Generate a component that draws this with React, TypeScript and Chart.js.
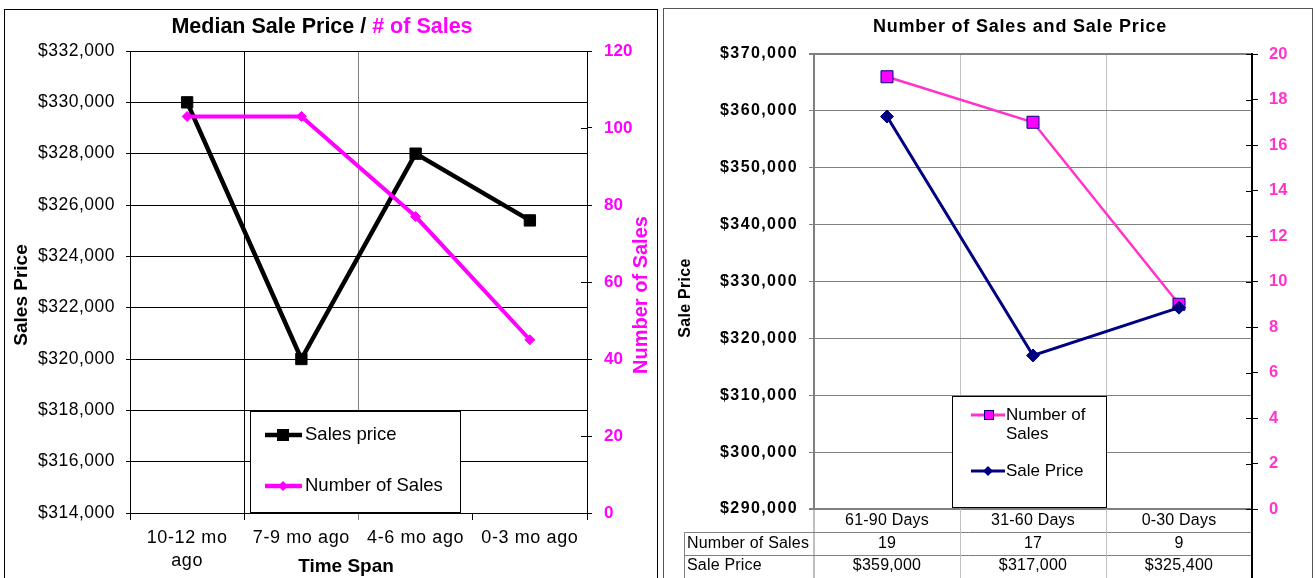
import React, { useEffect, useRef } from 'react';
import { Chart, registerables } from 'chart.js';

Chart.register(...registerables);

const FONT = "'Liberation Sans', Arial, sans-serif";

// ---------- Left chart data ----------
const leftTitleParts = ['Median Sale Price / ', '# of Sales'];
const timeSpans: (string | string[])[] = [['10-12 mo', 'ago'], '7-9 mo ago', '4-6 mo ago', '0-3 mo ago'];
const salesPrice = [330000, 320000, 328000, 325400];
const numberOfSales = [103, 103, 77, 45];
const leftPriceRange = [314000, 332000, 2000];
const leftCountRange = [0, 120, 20];

// ---------- Right chart data ----------
const rightTitle = 'Number of Sales and Sale Price';
const dayRanges = ['61-90 Days', '31-60 Days', '0-30 Days'];
const salesCount = [19, 17, 9];
const salePrice = [359000, 317000, 325400];
const rightPriceRange = [290000, 370000, 10000];
const rightCountRange = [0, 20, 2];

const money = (v: number) => '$' + Number(v).toLocaleString('en-US');

const PINK = '#FF00FF';
const PINK2 = '#FF33CC';
const NAVY = '#000080';

// scriptable tick colour that also sets the letter spacing used for that axis' labels
const spaced = (color: string, px: number) => (c: any) => {
  try { c.chart.ctx.letterSpacing = px + 'px'; } catch (e) { /* ignore */ }
  return color;
};

function setSpacing(ctx: any, px: number) {
  try { ctx.letterSpacing = px + 'px'; } catch (e) { /* ignore */ }
}

function drawDiamond(ctx: CanvasRenderingContext2D, x: number, y: number, r: number, fill: string) {
  ctx.beginPath();
  ctx.moveTo(x, y - r);
  ctx.lineTo(x + r, y);
  ctx.lineTo(x, y + r);
  ctx.lineTo(x - r, y);
  ctx.closePath();
  ctx.fillStyle = fill;
  ctx.fill();
}

const leftDecor = {
  id: 'leftDecor',
  afterDraw(chart: any) {
    const ctx: CanvasRenderingContext2D = chart.ctx;
    ctx.save();
    // frame
    ctx.strokeStyle = '#000';
    ctx.lineWidth = 1;
    ctx.strokeRect(4.5, 9.5, 653, 620);
    // inside ticks of right axis
    const y1 = chart.scales.y1;
    ctx.beginPath();
    y1.ticks.forEach((_t: any, i: number) => {
      const py = Math.round(y1.getPixelForTick(i)) + 0.5;
      ctx.moveTo(y1.left - 6, py);
      ctx.lineTo(y1.left, py);
    });
    ctx.stroke();
    // title
    setSpacing(ctx, 0);
    ctx.font = `bold 21.5px ${FONT}`;
    ctx.textBaseline = 'middle';
    ctx.textAlign = 'left';
    const wa = ctx.measureText(leftTitleParts[0]).width;
    const wb = ctx.measureText(leftTitleParts[1]).width;
    const x0 = 322 - (wa + wb) / 2;
    ctx.fillStyle = '#000';
    ctx.fillText(leftTitleParts[0], x0, 27);
    ctx.fillStyle = PINK;
    ctx.fillText(leftTitleParts[1], x0 + wa, 27);
    // axis titles
    ctx.textAlign = 'center';
    ctx.font = `bold 19px ${FONT}`;
    ctx.fillStyle = '#000';
    ctx.fillText('Time Span', 346, 567);
    ctx.save();
    ctx.translate(22, 295);
    ctx.rotate(-Math.PI / 2);
    ctx.fillText('Sales Price', 0, 0);
    ctx.restore();
    ctx.save();
    ctx.translate(641, 295);
    ctx.rotate(-Math.PI / 2);
    ctx.fillStyle = PINK;
    ctx.font = `bold 20px ${FONT}`;
    ctx.fillText('Number of Sales', 0, 0);
    ctx.restore();
    // legend
    ctx.fillStyle = '#fff';
    ctx.fillRect(250, 411, 211, 102);
    ctx.strokeStyle = '#000';
    ctx.lineWidth = 1;
    ctx.strokeRect(250.5, 411.5, 210, 101);
    const ds = chart.data.datasets;
    ctx.lineWidth = 4.5;
    ctx.strokeStyle = '#000';
    ctx.beginPath();
    ctx.moveTo(265, 435);
    ctx.lineTo(302, 435);
    ctx.stroke();
    ctx.fillStyle = '#000';
    ctx.fillRect(277, 429, 12, 12);
    ctx.strokeStyle = PINK;
    ctx.beginPath();
    ctx.moveTo(265, 486);
    ctx.lineTo(302, 486);
    ctx.stroke();
    drawDiamond(ctx, 283, 486, 5, PINK);
    ctx.font = `18.5px ${FONT}`;
    ctx.textAlign = 'left';
    ctx.fillStyle = '#000';
    ctx.fillText(ds[1].label, 305, 435);
    ctx.fillText(ds[0].label, 305, 486);
    ctx.restore();
  },
};

const rightDecor = {
  id: 'rightDecor',
  afterDraw(chart: any) {
    const ctx: CanvasRenderingContext2D = chart.ctx;
    const { x, y1 } = chart.scales;
    const area = chart.chartArea;
    ctx.save();
    // frame
    ctx.strokeStyle = '#555';
    ctx.lineWidth = 1;
    ctx.strokeRect(3.5, 8.5, 649, 620);
    // inside ticks of right axis
    ctx.strokeStyle = '#000';
    ctx.beginPath();
    y1.ticks.forEach((_t: any, i: number) => {
      const py = Math.round(y1.getPixelForTick(i)) + 0.5;
      ctx.moveTo(y1.left - 6, py);
      ctx.lineTo(y1.left, py);
    });
    ctx.stroke();
    // title
    setSpacing(ctx, 0.8);
    ctx.fillStyle = '#000';
    ctx.font = `bold 18px ${FONT}`;
    ctx.textAlign = 'center';
    ctx.textBaseline = 'middle';
    ctx.fillText(rightTitle, 360, 27);
    // axis title
    ctx.save();
    setSpacing(ctx, 0.3);
    ctx.translate(26, 298);
    ctx.rotate(-Math.PI / 2);
    ctx.font = `bold 16px ${FONT}`;
    ctx.fillText('Sale Price', 0, 0);
    ctx.restore();
    // data table
    const bottom = area.bottom;
    const r1 = 532.5, r2 = 555.5, tableLeft = 24.5;
    ctx.strokeStyle = '#808080';
    ctx.lineWidth = 1;
    ctx.beginPath();
    ctx.moveTo(tableLeft, r1); ctx.lineTo(area.right, r1);
    ctx.moveTo(tableLeft, r2); ctx.lineTo(area.right, r2);
    ctx.moveTo(tableLeft, r1); ctx.lineTo(tableLeft, 578);
    ctx.moveTo(area.left, bottom); ctx.lineTo(area.left, 578);
    ctx.stroke();
    ctx.strokeStyle = '#C0C0C0';
    ctx.beginPath();
    for (let i = 1; i < dayRanges.length; i++) {
      const bx = Math.round((x.getPixelForValue(i - 1) + x.getPixelForValue(i)) / 2) + 0.5;
      ctx.moveTo(bx, bottom); ctx.lineTo(bx, 578);
    }
    ctx.stroke();
    ctx.strokeStyle = '#000';
    ctx.lineWidth = 2;
    ctx.beginPath();
    ctx.moveTo(area.right, bottom); ctx.lineTo(area.right, 578);
    ctx.stroke();
    setSpacing(ctx, 0.2);
    ctx.font = `16px ${FONT}`;
    ctx.fillStyle = '#000';
    ctx.textAlign = 'center';
    dayRanges.forEach((lab, i) => {
      const cx = x.getPixelForValue(i);
      ctx.fillText(lab, cx, 521);
      ctx.fillText(String(salesCount[i]), cx, 544);
      ctx.fillText(money(salePrice[i]), cx, 566);
    });
    ctx.textAlign = 'left';
    ctx.fillText('Number of Sales', 27, 544);
    ctx.fillText('Sale Price', 27, 566);
    // legend
    ctx.fillStyle = '#fff';
    ctx.fillRect(292, 396, 155, 112);
    ctx.strokeStyle = '#000';
    ctx.lineWidth = 1;
    ctx.strokeRect(292.5, 396.5, 154, 111);
    ctx.lineWidth = 3;
    ctx.strokeStyle = PINK2;
    ctx.beginPath(); ctx.moveTo(311, 415); ctx.lineTo(345, 415); ctx.stroke();
    ctx.fillStyle = PINK;
    ctx.fillRect(324, 410, 10, 10);
    ctx.strokeStyle = NAVY; ctx.lineWidth = 1;
    ctx.strokeRect(324.5, 410.5, 9, 9);
    ctx.strokeStyle = NAVY; ctx.lineWidth = 3;
    ctx.beginPath(); ctx.moveTo(311, 471); ctx.lineTo(345, 471); ctx.stroke();
    drawDiamond(ctx, 328, 471, 5, NAVY);
    setSpacing(ctx, 0);
    ctx.fillStyle = '#000';
    ctx.font = `17px ${FONT}`;
    ctx.fillText('Number of', 346, 415);
    ctx.fillText('Sales', 346, 434);
    ctx.fillText('Sale Price', 346, 471);
    ctx.restore();
  },
};

export default function App() {
  const leftRef = useRef<HTMLCanvasElement>(null);
  const rightRef = useRef<HTMLCanvasElement>(null);

  useEffect(() => {
    const left = new Chart(leftRef.current as HTMLCanvasElement, {
      type: 'line',
      data: {
        labels: timeSpans as any,
        datasets: [
          {
            label: 'Number of Sales',
            data: numberOfSales,
            yAxisID: 'y1',
            borderColor: PINK,
            backgroundColor: PINK,
            pointBorderColor: PINK,
            borderWidth: 4,
            pointStyle: 'rectRot',
            pointRadius: 5,
            pointBorderWidth: 1,
            tension: 0,
          },
          {
            label: 'Sales price',
            data: salesPrice,
            yAxisID: 'y',
            borderColor: '#000',
            backgroundColor: '#000',
            pointBorderColor: '#000',
            borderWidth: 4.5,
            pointStyle: 'rect',
            pointRadius: 8,
            pointBorderWidth: 1,
            tension: 0,
          },
        ],
      },
      options: {
        responsive: false,
        animation: false,
        events: [],
        layout: { padding: { top: 51, left: 0, right: 0, bottom: 0 } },
        plugins: { legend: { display: false }, tooltip: { enabled: false }, title: { display: false } },
        scales: {
          x: {
            offset: true,
            grid: {
              offset: true,
              color: (c: any) => (c.index === 1 ? '#000' : c.index === 2 ? '#808080' : 'rgba(0,0,0,0)'),
              tickColor: (c: any) => (c.index === 2 ? '#808080' : '#000'),
              tickLength: 7,
            },
            border: { display: false },
            ticks: { font: { family: FONT, size: 18, lineHeight: 1.25 }, color: spaced('#000', 0.6), padding: 7, maxRotation: 0, autoSkip: false },
            afterFit: (s: any) => { s.height = 65; },
          },
          y: {
            position: 'left',
            min: leftPriceRange[0],
            max: leftPriceRange[1],
            ticks: { stepSize: leftPriceRange[2], callback: (v: any) => money(v), font: { family: FONT, size: 17.5 }, color: spaced('#000', 0.5), padding: 11 },
            grid: { color: '#000', tickLength: 4 },
            border: { color: '#000' },
            afterFit: (s: any) => { s.width = 130; },
          },
          y1: {
            position: 'right',
            min: leftCountRange[0],
            max: leftCountRange[1],
            ticks: { stepSize: leftCountRange[2], font: { family: FONT, size: 17, weight: 'bold' }, color: spaced(PINK, 0), padding: 12 },
            grid: { drawOnChartArea: false, color: '#000', tickLength: 5 },
            border: { color: '#000' },
            afterFit: (s: any) => { s.width = 73; },
          },
        },
      } as any,
      plugins: [leftDecor],
    });

    const right = new Chart(rightRef.current as HTMLCanvasElement, {
      type: 'line',
      data: {
        labels: dayRanges,
        datasets: [
          {
            label: 'Sale Price',
            data: salePrice,
            yAxisID: 'y',
            borderColor: NAVY,
            backgroundColor: NAVY,
            pointBorderColor: NAVY,
            borderWidth: 3,
            pointStyle: 'rectRot',
            pointRadius: 6.5,
            pointBorderWidth: 1,
            tension: 0,
          },
          {
            label: 'Number of Sales',
            data: salesCount,
            yAxisID: 'y1',
            borderColor: PINK2,
            backgroundColor: PINK,
            pointBorderColor: NAVY,
            borderWidth: 2.5,
            pointStyle: 'rect',
            pointRadius: 8.5,
            pointBorderWidth: 1,
            tension: 0,
          },
        ],
      },
      options: {
        responsive: false,
        animation: false,
        events: [],
        layout: { padding: { top: 54, left: 0, right: 0, bottom: 0 } },
        plugins: { legend: { display: false }, tooltip: { enabled: false }, title: { display: false } },
        scales: {
          x: {
            offset: true,
            grid: {
              offset: true,
              color: (c: any) => (c.index === 1 || c.index === 2 ? '#C0C0C0' : 'rgba(0,0,0,0)'),
              drawTicks: false,
            },
            border: { display: false },
            ticks: { display: false },
            afterFit: (s: any) => { s.height = 69; },
          },
          y: {
            position: 'left',
            min: rightPriceRange[0],
            max: rightPriceRange[1],
            ticks: { stepSize: rightPriceRange[2], callback: (v: any) => money(v), font: { family: FONT, size: 16, weight: 'bold' }, color: spaced('#000', 1.4), padding: 11 },
            grid: {
              color: '#808080',
              tickLength: 5,
              lineWidth: (c: any) => (c.index === 0 || c.index === 8 ? 2 : 1),
            },
            border: { color: '#808080', width: 2 },
            afterFit: (s: any) => { s.width = 154; },
          },
          y1: {
            position: 'right',
            min: rightCountRange[0],
            max: rightCountRange[1],
            ticks: { stepSize: rightCountRange[2], font: { family: FONT, size: 16.5, weight: 'bold' }, color: spaced(PINK2, 0), padding: 11 },
            grid: { drawOnChartArea: false, color: '#000', tickLength: 6 },
            border: { color: '#000', width: 2 },
            afterFit: (s: any) => { s.width = 63; },
          },
        },
      } as any,
      plugins: [rightDecor],
    });

    return () => {
      left.destroy();
      right.destroy();
    };
  }, []);

  return (
    <div style={{ position: 'fixed', left: 0, top: 0, width: 1315, height: 578, background: '#fff', overflow: 'hidden' }}>
      <canvas ref={leftRef} width={660} height={578} style={{ position: 'absolute', left: 0, top: 0 }} />
      <canvas ref={rightRef} width={655} height={578} style={{ position: 'absolute', left: 660, top: 0 }} />
    </div>
  );
}
